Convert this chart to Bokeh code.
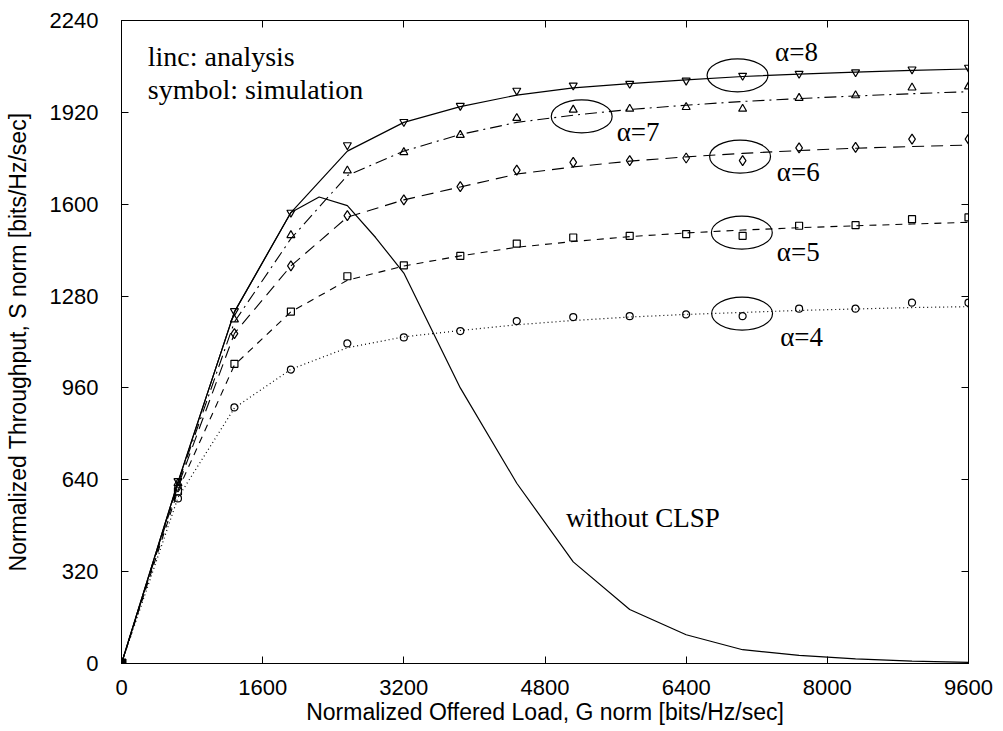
from bokeh.plotting import figure
from bokeh.models import Range1d, FixedTicker, LinearAxis, Label
from bokeh.embed import file_html
from bokeh.resources import INLINE

# ---------------- data ----------------
G = [0, 640, 1280, 1920, 2560, 3200, 3840, 4480, 5120, 5760, 6400, 7040, 7680, 8320, 8960, 9600]

# analysis (lines)
a8_line = [0, 632, 1225, 1571, 1785, 1885, 1940, 1980, 2005, 2020, 2033, 2045, 2053, 2060, 2066, 2071]
a7_line = [0, 627, 1190, 1480, 1700, 1785, 1843, 1885, 1910, 1930, 1945, 1958, 1968, 1977, 1985, 1992]
a6_line = [0, 618, 1150, 1385, 1555, 1615, 1660, 1705, 1730, 1750, 1765, 1777, 1787, 1795, 1801, 1806]
a5_line = [0, 603, 1040, 1225, 1335, 1385, 1420, 1450, 1470, 1487, 1500, 1510, 1518, 1525, 1531, 1537]
a4_line = [0, 578, 890, 1025, 1100, 1138, 1160, 1180, 1195, 1207, 1216, 1223, 1230, 1235, 1240, 1243]

# simulation (symbols)
a8_sym = [0, 636, 1228, 1571, 1806, 1887, 1943, 1996, 2014, 2020, 2031, 2048, 2055, 2060, 2070, 2076]
a7_sym = [0, 628, 1198, 1492, 1717, 1781, 1841, 1900, 1929, 1932, 1938, 1932, 1970, 1979, 2006, 2010]
a6_sym = [0, 615, 1149, 1385, 1560, 1615, 1661, 1719, 1746, 1752, 1761, 1752, 1796, 1798, 1827, 1827]
a5_sym = [0, 600, 1044, 1226, 1349, 1387, 1420, 1463, 1484, 1490, 1496, 1490, 1525, 1527, 1548, 1554]
a4_sym = [0, 575, 892, 1024, 1115, 1136, 1158, 1193, 1207, 1210, 1216, 1210, 1236, 1236, 1257, 1257]

# without CLSP
G_noclsp = [0, 640, 1280, 1920, 2240, 2560, 2880, 3200, 3840, 4480, 5120, 5760, 6400, 7040, 7680, 8320, 8960, 9600]
S_noclsp = [0, 632, 1225, 1571, 1625, 1595, 1484, 1360, 960, 628, 354, 188, 100, 48, 28, 16, 8, 4]

x_ticks = [0, 1600, 3200, 4800, 6400, 8000, 9600]
y_ticks = [0, 320, 640, 960, 1280, 1600, 1920, 2240]

alphas = ["α=8", "α=7", "α=6", "α=5", "α=4"]

# ---------------- figure ----------------
p = figure(width=1000, height=728, x_range=Range1d(0, 9600), y_range=Range1d(0, 2240),
           output_backend="svg", toolbar_location=None,
           min_border_left=121, min_border_right=32, min_border_top=20, min_border_bottom=65)
p.xgrid.visible = False
p.ygrid.visible = False
p.outline_line_color = "black"
p.outline_line_width = 1
p.background_fill_color = "white"
p.border_fill_color = "white"

SANS = "Liberation Sans"
SERIF = "Liberation Serif"

for ax, ticks in ((p.xaxis[0], x_ticks), (p.yaxis[0], y_ticks)):
    ax.ticker = FixedTicker(ticks=ticks)
    ax.major_tick_in = 7
    ax.major_tick_out = 0
    ax.minor_tick_line_color = None
    ax.axis_line_color = "black"
    ax.major_tick_line_color = "black"
    ax.major_label_text_font = SANS
    ax.major_label_text_font_size = "22px"
    ax.major_label_text_color = "black"
    ax.axis_label_text_font = SANS
    ax.axis_label_text_font_size = "23px"
    ax.axis_label_text_font_style = "normal"
    ax.axis_label_text_color = "black"

p.xaxis.axis_label = "Normalized Offered Load, G norm [bits/Hz/sec]"
p.yaxis.axis_label = "Normalized Throughput, S norm [bits/Hz/sec]"
p.xaxis.major_label_standoff = 16
p.yaxis.major_label_standoff = 23
p.xaxis.axis_label_standoff = 1
p.yaxis.axis_label_standoff = 16

for loc, ticks in (("above", x_ticks), ("right", y_ticks)):
    ax = LinearAxis(ticker=FixedTicker(ticks=ticks), major_tick_in=7, major_tick_out=0,
                    minor_tick_line_color=None, major_label_text_color=None,
                    major_label_text_font_size="1px",
                    major_label_standoff=0, axis_line_color="black")
    p.add_layout(ax, loc)

# ---------------- curves ----------------
p.line(G_noclsp, S_noclsp, line_color="black", line_width=1.2)
p.line(G, a8_line, line_color="black", line_width=1.2)
p.line(G, a7_line, line_color="black", line_width=1.1, line_dash="12 5 2 5")
p.line(G, a6_line, line_color="black", line_width=1.1, line_dash="12 7")
p.line(G, a5_line, line_color="black", line_width=1.1, line_dash="7 6")
p.line(G, a4_line, line_color="black", line_width=1.2, line_dash="1 3")

mk = dict(fill_color=None, line_color="black", line_width=1.2)
p.scatter(G, a8_sym, marker="inverted_triangle", size=8, **mk)
p.scatter(G, a7_sym, marker="triangle", size=8, **mk)
p.scatter(G, a6_sym, marker="diamond", size=10, **mk)
p.scatter(G, a5_sym, marker="square", size=7, **mk)
p.scatter(G, a4_sym, marker="circle", size=7, **mk)
p.scatter([G[0]], [a4_sym[0]], marker="square", size=9, fill_color="black", line_color="black")

# ---------------- annotation rings ----------------
ring_x = [6982, 5216, 7011, 7031, 7034]
ring_y = [2049, 1906, 1766, 1501, 1219]
p.ellipse(x=ring_x, y=ring_y, width=690, height=115, fill_color=None, line_color="black", line_width=1.2)

# ---------------- labels ----------------
lbl = dict(text_font=SERIF, text_color="black", text_baseline="alphabetic")
p.add_layout(Label(x=298, y=2114, text="linc: analysis", text_font_size="28px", **lbl))
p.add_layout(Label(x=298, y=1998, text="symbol: simulation", text_font_size="28px", **lbl))
p.add_layout(Label(x=5037, y=506, text="without CLSP", text_font_size="27px", **lbl))
alpha_xy = [(7408, 2131), (5612, 1852), (7428, 1712), (7428, 1432), (7465, 1138)]
for t, (lx, ly) in zip(alphas, alpha_xy):
    p.add_layout(Label(x=lx, y=ly, text=t, text_font_size="27px", **lbl))

open("out.html", "w").write(file_html(p, INLINE))
